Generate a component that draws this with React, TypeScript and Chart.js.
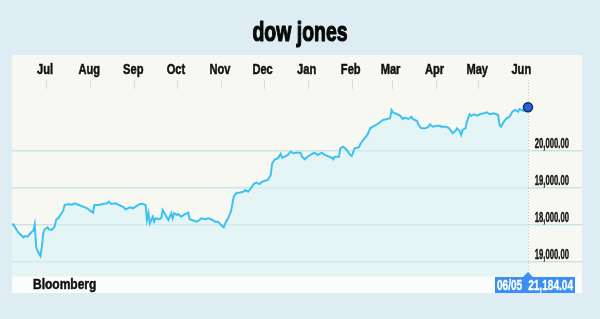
import { useEffect, useRef } from 'react';
import { Chart, registerables } from 'chart.js';

Chart.register(...registerables);

const TITLE = 'dow jones';
const SOURCE = 'Bloomberg';
const START_DATE = '2016-06-07';
const monthLabels = ['Jul', 'Aug', 'Sep', 'Oct', 'Nov', 'Dec', 'Jan', 'Feb', 'Mar', 'Apr', 'May', 'Jun'];
const monthStarts = ['2016-07-01', '2016-08-01', '2016-09-01', '2016-10-01', '2016-11-01', '2016-12-01', '2017-01-01', '2017-02-01', '2017-03-01', '2017-04-01', '2017-05-01', '2017-06-01'];

// calendar days since START_DATE
const dayOffsets = [
  0, 1, 3, 5, 8, 9, 11, 13, 14, 15, 16, 17, 18, 20, 21, 22, 23, 25, 26, 28,
  30, 31, 33, 34, 36, 37, 40, 42, 44, 47, 50, 53, 55, 57, 58, 61, 64, 67, 68, 70,
  73, 75, 78, 80, 83, 85, 87, 90, 92, 94, 95, 96, 97, 99, 100, 101, 103, 105, 106, 108,
  110, 112, 113, 114, 116, 117, 119, 122, 124, 125, 128, 130, 132, 133, 136, 138, 140, 143, 145, 147,
  149, 150, 152, 154, 156, 158, 160, 163, 164, 166, 168, 170, 172, 174, 176, 178, 180, 182, 183, 185,
  187, 189, 190, 192, 194, 196, 198, 200, 203, 204, 206, 208, 211, 213, 215, 218, 220, 222, 225, 226,
  227, 230, 231, 233, 235, 238, 239, 241, 244, 245, 247, 250, 252, 254, 258, 261, 264, 266, 267, 268,
  271, 273, 275, 276, 279, 281, 282, 285, 286, 288, 291, 293, 294, 296, 299, 301, 302, 305, 307, 309,
  310, 312, 313, 315, 316, 317, 319, 320, 322, 323, 325, 327, 329, 332, 334, 336, 339, 342, 343, 344,
  346, 348, 350, 352, 354, 356, 357, 360, 361, 363,
];

const closeValues = [
  17995, 18014, 17878, 17770, 17661, 17696, 17678, 17770, 17813, 17840, 18014, 17407, 17290, 17154, 17407, 17770, 17878, 17932, 17878, 17859,
  17949, 18130, 18203, 18266, 18382, 18537, 18564, 18537, 18583, 18537, 18491, 18447, 18382, 18328, 18537, 18537, 18564, 18583, 18626, 18564,
  18583, 18537, 18491, 18420, 18474, 18447, 18491, 18564, 18564, 18537, 18130, 18312, 18041, 18220, 18084, 18176, 18149, 18176, 18401, 18266,
  18130, 18312, 18176, 18312, 18266, 18293, 18220, 18293, 18328, 18149, 18111, 18084, 18130, 18176, 18149, 18176, 18149, 18084, 18084, 17995,
  17932, 18041, 18176, 18355, 18762, 18870, 18870, 18897, 18943, 18897, 18989, 19106, 19141, 19106, 19168, 19195, 19214, 19350, 19667, 19775,
  19802, 19919, 19818, 19846, 19892, 19981, 19938, 19954, 19954, 19846, 19775, 19846, 19919, 19954, 19892, 19954, 19892, 19864, 19818, 19775,
  19846, 19846, 20073, 20117, 20046, 19892, 19864, 20073, 20100, 20182, 20298, 20434, 20615, 20659, 20751, 20840, 20867, 20886, 21111, 21049,
  20995, 20957, 20867, 20903, 20867, 20930, 20867, 20813, 20705, 20615, 20615, 20659, 20724, 20659, 20686, 20686, 20659, 20659, 20631, 20542,
  20480, 20542, 20615, 20542, 20434, 20569, 20615, 20794, 20995, 20957, 20995, 20957, 20995, 21022, 21049, 20995, 21022, 20976, 20705, 20659,
  20794, 20886, 20930, 21065, 21111, 21065, 21138, 21084, 21173, 21184,
];

const yTickValues = [17000, 18000, 19000, 20000];
const yTickLabels = ['19,000.00', '18,000.00', '19,000.00', '20,000.00'];
const lastDateLabel = '06/05';
const lastValueLabel = '21,184.04';

const daysFrom = (d: string) => Math.round((Date.parse(d) - Date.parse(START_DATE)) / 86400000);

const FONT = '"Liberation Sans", Arial, sans-serif';

function cText(ctx: CanvasRenderingContext2D, text: string, x: number, y: number, size: number, color: string, align: CanvasTextAlign, sx: number, heavy = 0) {
  ctx.save();
  ctx.font = `bold ${size}px ${FONT}`;
  ctx.fillStyle = color;
  ctx.strokeStyle = color;
  ctx.textBaseline = 'alphabetic';
  ctx.textAlign = align;
  ctx.translate(x, y);
  ctx.scale(sx, 1);
  ctx.fillText(text, 0, 0);
  if (heavy > 0) {
    ctx.lineWidth = heavy;
    ctx.lineJoin = 'round';
    ctx.strokeText(text, 0, 0);
  }
  ctx.restore();
}

const decorPlugin = {
  id: 'decor',
  beforeDraw(chart: any) {
    const { ctx, width, height } = chart;
    ctx.save();
    ctx.fillStyle = '#deedf4';
    ctx.fillRect(0, 0, width, height);
    ctx.fillStyle = '#f8f8f3';
    ctx.fillRect(12, 55, 570, 238);
    ctx.fillStyle = '#fbfcfc';
    ctx.fillRect(12, 277, 570, 16);
    ctx.restore();
  },
  afterDraw(chart: any) {
    const { ctx } = chart;
    const xs = chart.scales.x;
    const ys = chart.scales.y;
    const area = chart.chartArea;
    // title
    cText(ctx, TITLE, 300, 41, 27, '#080808', 'center', 0.72, 1.2);
    // month ticks and labels
    monthLabels.forEach((m, i) => {
      const px = xs.getPixelForValue(daysFrom(monthStarts[i]));
      if (i < monthLabels.length - 1) {
        ctx.save();
        ctx.strokeStyle = '#dcdcd6';
        ctx.lineWidth = 1;
        ctx.beginPath();
        ctx.moveTo(Math.round(px) + 0.5, area.top);
        ctx.lineTo(Math.round(px) + 0.5, area.top + 9);
        ctx.stroke();
        ctx.restore();
      }
      cText(ctx, m, px - 1, 74, 15, '#111', 'center', 0.74, 0.5);
    });
    // y labels
    yTickValues.forEach((v, i) => {
      const py = ys.getPixelForValue(v);
      cText(ctx, yTickLabels[i], 569, py - 3, 14, '#151515', 'right', 0.55, 0.4);
    });
    // source
    cText(ctx, SOURCE, 33, 289, 15, '#111', 'left', 0.8, 0.5);
    // last point marker line & box
    const lastX = xs.getPixelForValue(dayOffsets[dayOffsets.length - 1]);
    const lastY = ys.getPixelForValue(closeValues[closeValues.length - 1]);
    ctx.save();
    ctx.strokeStyle = '#9fd0e6';
    ctx.lineWidth = 1;
    ctx.setLineDash([1, 2]);
    ctx.beginPath();
    ctx.moveTo(Math.round(lastX) + 0.5, area.top);
    ctx.lineTo(Math.round(lastX) + 0.5, 277);
    ctx.stroke();
    ctx.setLineDash([]);
    ctx.fillStyle = '#3a8ff0';
    ctx.fillRect(495, 277, 80, 16);
    ctx.beginPath();
    ctx.moveTo(lastX - 5, 277);
    ctx.lineTo(lastX, 272);
    ctx.lineTo(lastX + 5, 277);
    ctx.closePath();
    ctx.fill();
    ctx.restore();
    cText(ctx, lastDateLabel, 497, 290, 14, '#ffffff', 'left', 0.72, 0.3);
    cText(ctx, lastValueLabel, 573, 290, 14, '#ffffff', 'right', 0.72, 0.3);
    // marker on top
    ctx.save();
    ctx.beginPath();
    ctx.arc(lastX, lastY, 4.5, 0, Math.PI * 2);
    ctx.fillStyle = '#2a64dc';
    ctx.fill();
    ctx.lineWidth = 1.5;
    ctx.strokeStyle = '#15285e';
    ctx.stroke();
    ctx.restore();
  },
};

export default function App() {
  const ref = useRef<HTMLCanvasElement | null>(null);
  useEffect(() => {
    if (!ref.current) return;
    const data = dayOffsets.map((d, i) => ({ x: d, y: closeValues[i] }));
    const chart = new Chart(ref.current, {
      type: 'line',
      data: {
        datasets: [
          {
            data,
            borderColor: '#3cc2f2',
            borderWidth: 2,
            backgroundColor: 'rgba(214,240,244,0.55)',
            fill: 'start',
            pointRadius: 0,
            tension: 0,
          },
        ],
      },
      options: {
        responsive: false,
        animation: false,
        layout: { padding: { left: 12, right: 18, top: 80, bottom: 43 } },
        plugins: { legend: { display: false }, tooltip: { enabled: false }, title: { display: false } },
        scales: {
          x: {
            type: 'linear',
            min: 0,
            max: 401,
            display: false,
          },
          y: {
            type: 'linear',
            position: 'right',
            min: 16612,
            max: 21924,
            afterBuildTicks: (s: any) => {
              s.ticks = yTickValues.map((v) => ({ value: v }));
            },
            ticks: { display: false },
            border: { display: false },
            grid: { drawTicks: false, color: 'rgba(196,224,226,0.9)', lineWidth: 1.6 },
          },
        },
      },
      plugins: [decorPlugin],
    });
    return () => chart.destroy();
  }, []);
  return (
    <div style={{ position: 'fixed', left: 0, top: 0, width: 600, height: 319 }}>
      <canvas ref={ref} width={600} height={319} />
    </div>
  );
}
